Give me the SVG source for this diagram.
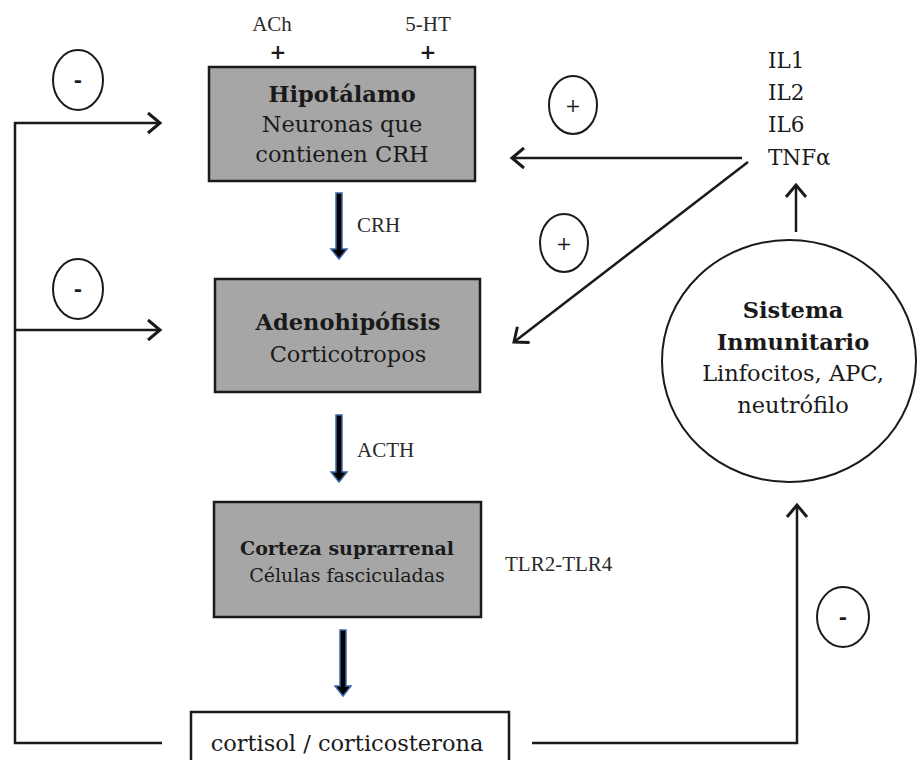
<svg xmlns="http://www.w3.org/2000/svg" width="917" height="760" viewBox="0 0 917 760">
<style>
  text { font-family: "DejaVu Serif", "Liberation Serif", serif; fill: #1a1a1a; }
  .box { fill: #a6a6a6; stroke: #1a1a1a; stroke-width: 2.5; }
  .wbox { fill: #ffffff; stroke: #1a1a1a; stroke-width: 2.5; }
  .line { fill: none; stroke: #1a1a1a; stroke-width: 2.5; }
  .sign { fill: none; stroke: #1a1a1a; stroke-width: 2; }
  .big { font-size: 22.5px; text-anchor: middle; }
  .bold { font-weight: bold; }
  .small { font-family: "Liberation Serif", serif; font-size: 21px; fill: #2a2a2a; }
  .mid { font-size: 19px; text-anchor: middle; }
  .op { font-size: 20px; text-anchor: middle; font-weight: bold; }
  .fat { fill: #000000; stroke: #3a68a8; stroke-width: 1.5; }
</style>
<defs>
  <marker id="open" markerUnits="userSpaceOnUse" markerWidth="18" markerHeight="26" refX="15" refY="13" orient="auto">
    <path d="M3,3 L15,13 L3,23" fill="none" stroke="#1a1a1a" stroke-width="3" stroke-linejoin="miter"/>
  </marker>
</defs>
<rect width="917" height="760" fill="#ffffff"/>

<g id="connectors">
  <polyline class="line" points="162,743 15,743 15,123 160,123" marker-end="url(#open)"/>
  <line class="line" x1="15" y1="330" x2="160" y2="330" marker-end="url(#open)"/>
  <polyline class="line" points="532,743 797,743 797,505" marker-end="url(#open)"/>
  <line class="line" x1="796" y1="232" x2="796" y2="185" marker-end="url(#open)"/>
  <line class="line" x1="742" y1="158" x2="512" y2="158" marker-end="url(#open)"/>
  <line class="line" x1="748" y1="162" x2="514" y2="342" marker-end="url(#open)"/>
  <polygon class="fat" points="336,193 342,193 342,249 347,249 339,259 331,249 336,249"/>
  <polygon class="fat" points="336,415 342,415 342,472 347,472 339,482 331,472 336,472"/>
  <polygon class="fat" points="340,630 346,630 346,686 351,686 343,696 335,686 340,686"/>
  <text class="small" x="357" y="232">CRH</text>
  <text class="small" x="357" y="457">ACTH</text>
</g>

<g id="signs">
  <ellipse class="sign" cx="78" cy="80" rx="25" ry="30"/>
  <text class="op" x="78" y="87">-</text>
  <ellipse class="sign" cx="78" cy="289" rx="25" ry="30"/>
  <text class="op" x="78" y="296">-</text>
  <ellipse class="sign" cx="573" cy="105" rx="24" ry="29"/>
  <text class="mid" x="573" y="112">+</text>
  <ellipse class="sign" cx="564" cy="243" rx="24" ry="29"/>
  <text class="mid" x="564" y="250">+</text>
  <ellipse class="sign" cx="843" cy="617" rx="26" ry="30"/>
  <text class="op" x="843" y="624">-</text>
</g>

<g id="hipotalamo">
  <text class="small" x="272" y="31" text-anchor="middle">ACh</text>
  <text class="small" x="428" y="31" text-anchor="middle">5-HT</text>
  <text x="278" y="59" font-size="20" text-anchor="middle" font-weight="bold">+</text>
  <text x="428" y="59" font-size="20" text-anchor="middle" font-weight="bold">+</text>
  <rect class="box" x="209" y="67" width="266" height="114"/>
  <text class="big bold" x="342" y="102">Hipotálamo</text>
  <text class="big" x="342" y="132">Neuronas que</text>
  <text class="big" x="342" y="162">contienen CRH</text>
</g>

<g id="adenohipofisis">
  <rect class="box" x="215" y="279" width="265" height="113"/>
  <text class="big bold" x="348" y="330">Adenohipófisis</text>
  <text class="big" x="348" y="362">Corticotropos</text>
</g>

<g id="corteza">
  <rect class="box" x="214" y="502" width="267" height="115"/>
  <text class="mid bold" x="347" y="555">Corteza suprarrenal</text>
  <text class="mid" x="347" y="582">Células fasciculadas</text>
  <text class="small" x="505" y="571">TLR2-TLR4</text>
</g>

<g id="cortisol">
  <rect class="wbox" x="191" y="712" width="318" height="60"/>
  <text x="347" y="751" style="font-size:22.5px" text-anchor="middle">cortisol / corticosterona</text>
</g>

<g id="citocinas">
  <text x="768" y="68" font-size="21.5">IL1</text>
  <text x="768" y="100" font-size="21.5">IL2</text>
  <text x="768" y="132" font-size="21.5">IL6</text>
  <text x="768" y="165" font-size="21.5">TNFα</text>
</g>

<g id="sistema-inmunitario">
  <ellipse class="wbox" cx="789" cy="361" rx="127" ry="121" style="stroke-width:2"/>
  <text class="big bold" x="793" y="318">Sistema</text>
  <text class="big bold" x="793" y="350">Inmunitario</text>
  <text class="big" x="793" y="381">Linfocitos, APC,</text>
  <text class="big" x="793" y="413">neutrófilo</text>
</g>
</svg>
